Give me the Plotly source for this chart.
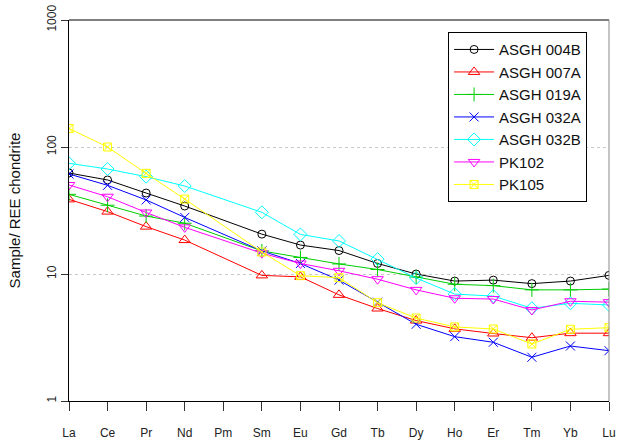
import plotly.graph_objects as go

# Rare earth elements along the x axis (Pm has no analyses)
elements = ["La", "Ce", "Pr", "Nd", "Pm", "Sm", "Eu", "Gd", "Tb", "Dy",
            "Ho", "Er", "Tm", "Yb", "Lu"]

# Chondrite-normalised REE values per sample
asgh_004b = [62.4, 55.0, 43.4, 34.3, None, 20.6, 16.9, 15.3, 12.1, 10.0,
             8.8, 8.95, 8.4, 8.8, 9.75]
asgh_007a = [38.7, 31.0, 23.6, 18.5, None, 9.75, 9.5, 6.85, 5.35, 4.3,
             3.7, 3.4, 3.15, 3.42, 3.42]
asgh_019a = [42.4, 34.8, 28.6, 25.1, None, 15.2, 13.5, 12.0, 10.85, 9.45,
             8.3, 8.1, 7.5, 7.5, 7.6]
asgh_032a = [61.3, 49.9, 38.3, 27.9, None, 15.2, 12.1, 8.95, 6.0, 4.02,
             3.21, 2.9, 2.21, 2.71, 2.49]
asgh_032b = [74.4, 67.1, 58.4, 49.3, None, 30.6, 20.5, 18.2, 13.1, 9.3,
             6.95, 6.7, 5.37, 5.88, 5.7]
pk102 = [50.2, 40.6, 30.5, 23.3, None, 14.6, 12.1, 10.6, 9.1, 7.5,
         6.44, 6.35, 5.21, 6.1, 6.0]
pk105 = [140.0, 100.0, 62.0, 38.9, None, 14.9, 9.7, 9.35, 5.94, 4.5,
         3.83, 3.69, 2.81, 3.67, 3.78]

sample_names = ["ASGH 004B", "ASGH 007A", "ASGH 019A", "ASGH 032A",
                "ASGH 032B", "PK102", "PK105"]
sample_values = [asgh_004b, asgh_007a, asgh_019a, asgh_032a,
                 asgh_032b, pk102, pk105]

y_ticks = [1, 10, 100, 1000]

colors = ["#000000", "#FF0000", "#00CD00", "#0000FF", "#00FFFF",
          "#FF00FF", "#FFFF00"]
symbols = ["circle-open", "triangle-up-open", "cross-thin-open",
           "x-thin-open", "diamond-open", "triangle-down-open",
           "square-x-open"]
sizes = [8, 10, 10, 9, 10, 10, 8]

fig = go.Figure()
for name, vals, col, sym, sz in zip(sample_names, sample_values, colors,
                                    symbols, sizes):
    fig.add_trace(go.Scatter(
        x=elements, y=vals, name=name, mode="lines+markers",
        connectgaps=True,
        line=dict(color=col, width=1),
        marker=dict(symbol=sym, size=sz, color=col,
                    line=dict(color=col, width=1)),
    ))

font_family = "Liberation Sans, Arial, sans-serif"

fig.update_layout(
    width=617, height=440,
    margin=dict(l=69, r=8, t=20, b=39),
    paper_bgcolor="white", plot_bgcolor="white",
    font=dict(family=font_family, color="#222222"),
    showlegend=True,
    legend=dict(
        x=0.702, y=0.968, xanchor="left", yanchor="top",
        bgcolor="white", bordercolor="#000000", borderwidth=1,
        font=dict(size=15, color="#111111", family=font_family),
        itemwidth=40,
    ),
    xaxis=dict(
        type="category",
        categoryorder="array", categoryarray=elements,
        range=[0, len(elements) - 1],
        tickvals=elements, ticktext=elements,
        showgrid=False, zeroline=False, automargin=False,
        showline=True, linecolor="#000000", linewidth=1,
        ticks="outside", ticklen=9, tickcolor="#333333",
        ticklabelstandoff=12,
        tickfont=dict(size=12, color="#222222"),
    ),
    yaxis=dict(
        type="log", range=[0, 3],
        tickvals=y_ticks, ticktext=[str(v) for v in y_ticks],
        tickangle=-90, automargin=False,
        showgrid=True, gridcolor="#C8C8C8", griddash="dot", gridwidth=1,
        zeroline=False,
        showline=True, linecolor="#000000", linewidth=1,
        ticks="outside", ticklen=7, tickcolor="#333333",
        tickfont=dict(size=12, color="#222222"),
        title=dict(text="Sample/ REE chondrite",
                   font=dict(size=15, color="#111111"), standoff=20),
    ),
    shapes=[
        dict(type="line", xref="paper", yref="paper", x0=0, x1=1, y0=1, y1=1,
             line=dict(color="#000000", width=1)),
        dict(type="line", xref="paper", yref="paper", x0=1, x1=1, y0=0, y1=1,
             line=dict(color="#888888", width=1)),
    ],
)

fig.write_html("out.html")
